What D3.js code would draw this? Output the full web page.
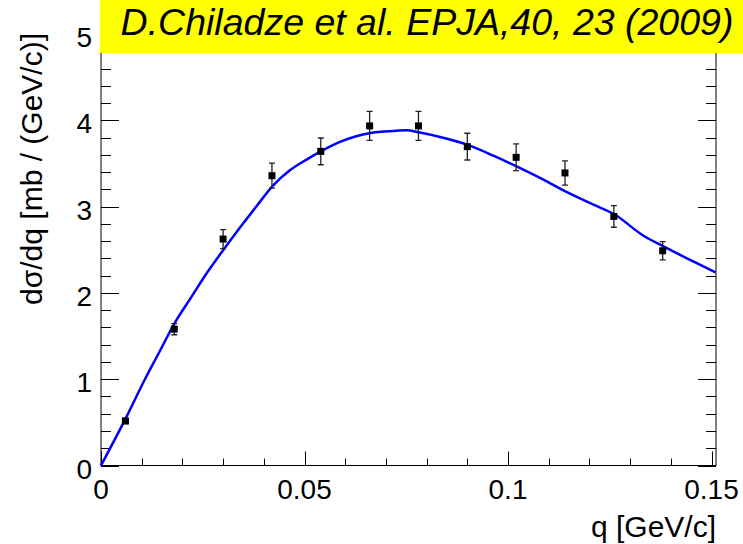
<!DOCTYPE html>
<html>
<head>
<meta charset="utf-8">
<script src="https://cdn.jsdelivr.net/npm/d3@7"></script>
<style>
  html, body { margin: 0; padding: 0; background: #fff; }
  svg { display: block; font-family: 'Liberation Sans', Arial, sans-serif; }
</style>
</head>
<body>
<svg id="chart" width="743" height="544"></svg>
<script>
'use strict';

// measured points (bin centres in q, dsigma/dq, stat. error)
var qData = [0.006, 0.018, 0.030, 0.042, 0.054, 0.066, 0.078, 0.090, 0.102, 0.114, 0.126, 0.138];
var sigData = [0.516, 1.58, 2.624, 3.358, 3.640, 3.935, 3.935, 3.695, 3.571, 3.39, 2.886, 2.488];
var errData = [0.03, 0.065, 0.11, 0.145, 0.155, 0.168, 0.168, 0.155, 0.155, 0.14, 0.125, 0.106];

// model curve
var qCurve = [0, 0.006, 0.0108, 0.0145, 0.0181, 0.0219, 0.026, 0.0301, 0.0342, 0.0383, 0.0422,
    0.0464, 0.0505, 0.054, 0.0587, 0.0662, 0.0694, 0.0727, 0.0751, 0.078, 0.0833, 0.090,
    0.0964, 0.1021, 0.1087, 0.1135, 0.121, 0.126, 0.1333, 0.1382, 0.1455, 0.151];
var sigCurve = [0, 0.54, 1.0, 1.33, 1.65, 1.93, 2.23, 2.50, 2.76, 3.01, 3.24,
    3.42, 3.545, 3.64, 3.75, 3.854, 3.87, 3.88, 3.884, 3.861, 3.807, 3.718,
    3.59, 3.466, 3.312, 3.19, 3.022, 2.914, 2.662, 2.538, 2.364, 2.237];

var xMajor = [0, 0.05, 0.1, 0.15];
var xLabels = ['0', '0.05', '0.1', '0.15'];
var yMajor = [0, 1, 2, 3, 4, 5];

var titleText = 'D.Chiladze et al. EPJA,40, 23 (2009)';
var xTitle = 'q [GeV/c]';
var yTitle = 'd\u03c3/dq [mb / (GeV/c)]';

var svg = d3.select('#chart');
var W = 743, H = 544;
var margin = {left: 101, right: 27, top: 34, bottom: 78.5};

var x = d3.scaleLinear().domain([0, 0.1511]).range([margin.left, W - margin.right]);
var y = d3.scaleLinear().domain([0, 5]).range([H - margin.bottom, margin.top]);

var x0 = x.range()[0], x1 = x.range()[1];
var y0 = y.range()[0], y1 = y.range()[1];

var axes = svg.append('g').attr('class', 'axes')
    .attr('stroke', '#000')
    .attr('stroke-width', 1)
    .attr('fill', 'none');

// frame
axes.append('rect')
    .attr('x', x0).attr('y', y1)
    .attr('width', x1 - x0).attr('height', y0 - y1);

// x ticks: major every 0.05, minor every 0.01
var xMinor = d3.range(0, 0.1511, 0.01).filter(function(v) {
    return Math.abs(v / 0.05 - Math.round(v / 0.05)) > 1e-6;
});
function xTick(v, len) {
    var px = Math.round(x(v)) + 0.5;
    axes.append('path').attr('d', 'M' + px + ',' + y0 + 'V' + (y0 - len));
    axes.append('path').attr('d', 'M' + px + ',' + y1 + 'V' + (y1 + len));
}
xMajor.forEach(function(v) { xTick(v, 14); });
xMinor.forEach(function(v) { xTick(v, 7); });

// y ticks: major every 1, minor every 0.2
var yMinor = d3.range(0, 5.001, 0.2).filter(function(v) {
    return Math.abs(v - Math.round(v)) > 1e-6;
});
function yTick(v, len) {
    var py = Math.round(y(v)) + 0.5;
    axes.append('path').attr('d', 'M' + x0 + ',' + py + 'H' + (x0 + len));
    axes.append('path').attr('d', 'M' + x1 + ',' + py + 'H' + (x1 - len));
}
yMajor.forEach(function(v) { yTick(v, 18); });
yMinor.forEach(function(v) { yTick(v, 10); });

// tick labels
svg.append('g').selectAll('text.xl')
    .data(xMajor)
  .enter().append('text')
    .attr('class', 'xl')
    .attr('x', function(d) { return x(d); })
    .attr('y', y0 + 33)
    .attr('text-anchor', 'middle')
    .attr('font-size', 28)
    .text(function(d, i) { return xLabels[i]; });

svg.append('g').selectAll('text.yl')
    .data(yMajor)
  .enter().append('text')
    .attr('class', 'yl')
    .attr('x', x0 - 9)
    .attr('y', function(d) { return y(d) + 13; })
    .attr('text-anchor', 'end')
    .attr('font-size', 28)
    .text(function(d) { return d; });

// axis titles
svg.append('text')
    .attr('x', x1)
    .attr('y', 537)
    .attr('text-anchor', 'end')
    .attr('font-size', 30)
    .text(xTitle);

svg.append('text')
    .attr('transform', 'translate(42,33) rotate(-90)')
    .attr('text-anchor', 'end')
    .attr('font-size', 30)
    .text(yTitle);

// model curve
var curvePts = qCurve.map(function(q, i) { return [q, sigCurve[i]]; });
svg.append('path')
    .datum(curvePts)
    .attr('fill', 'none')
    .attr('stroke', '#0000ff')
    .attr('stroke-width', 2.5)
    .attr('stroke-linejoin', 'round')
    .attr('d', d3.line()
        .x(function(d) { return x(d[0]); })
        .y(function(d) { return y(d[1]); })
        .curve(d3.curveMonotoneX));

// data points with error bars
var pts = qData.map(function(q, i) { return {q: q, v: sigData[i], e: errData[i]}; });
var pg = svg.append('g').selectAll('g.pt')
    .data(pts)
  .enter().append('g')
    .attr('class', 'pt');

pg.append('path')
    .attr('fill', 'none')
    .attr('stroke', '#222')
    .attr('stroke-width', 1.3)
    .attr('d', function(d) {
        var px = x(d.q);
        var lo = y(d.v - d.e), hi = y(d.v + d.e);
        return 'M' + px + ',' + lo + 'V' + hi +
            'M' + (px - 3) + ',' + hi + 'H' + (px + 3) +
            'M' + (px - 3) + ',' + lo + 'H' + (px + 3);
    });

pg.append('rect')
    .attr('x', function(d) { return x(d.q) - 3.5; })
    .attr('y', function(d) { return y(d.v) - 3.5; })
    .attr('width', 7)
    .attr('height', 7)
    .attr('fill', '#000');

// reference banner
svg.append('rect')
    .attr('x', 100).attr('y', 0)
    .attr('width', W - 100).attr('height', 53)
    .attr('fill', '#ffff00');

svg.append('text')
    .attr('x', 427)
    .attr('y', 35)
    .attr('text-anchor', 'middle')
    .attr('font-size', 37.5)
    .attr('font-style', 'italic')
    .text(titleText);
</script>
</body>
</html>
